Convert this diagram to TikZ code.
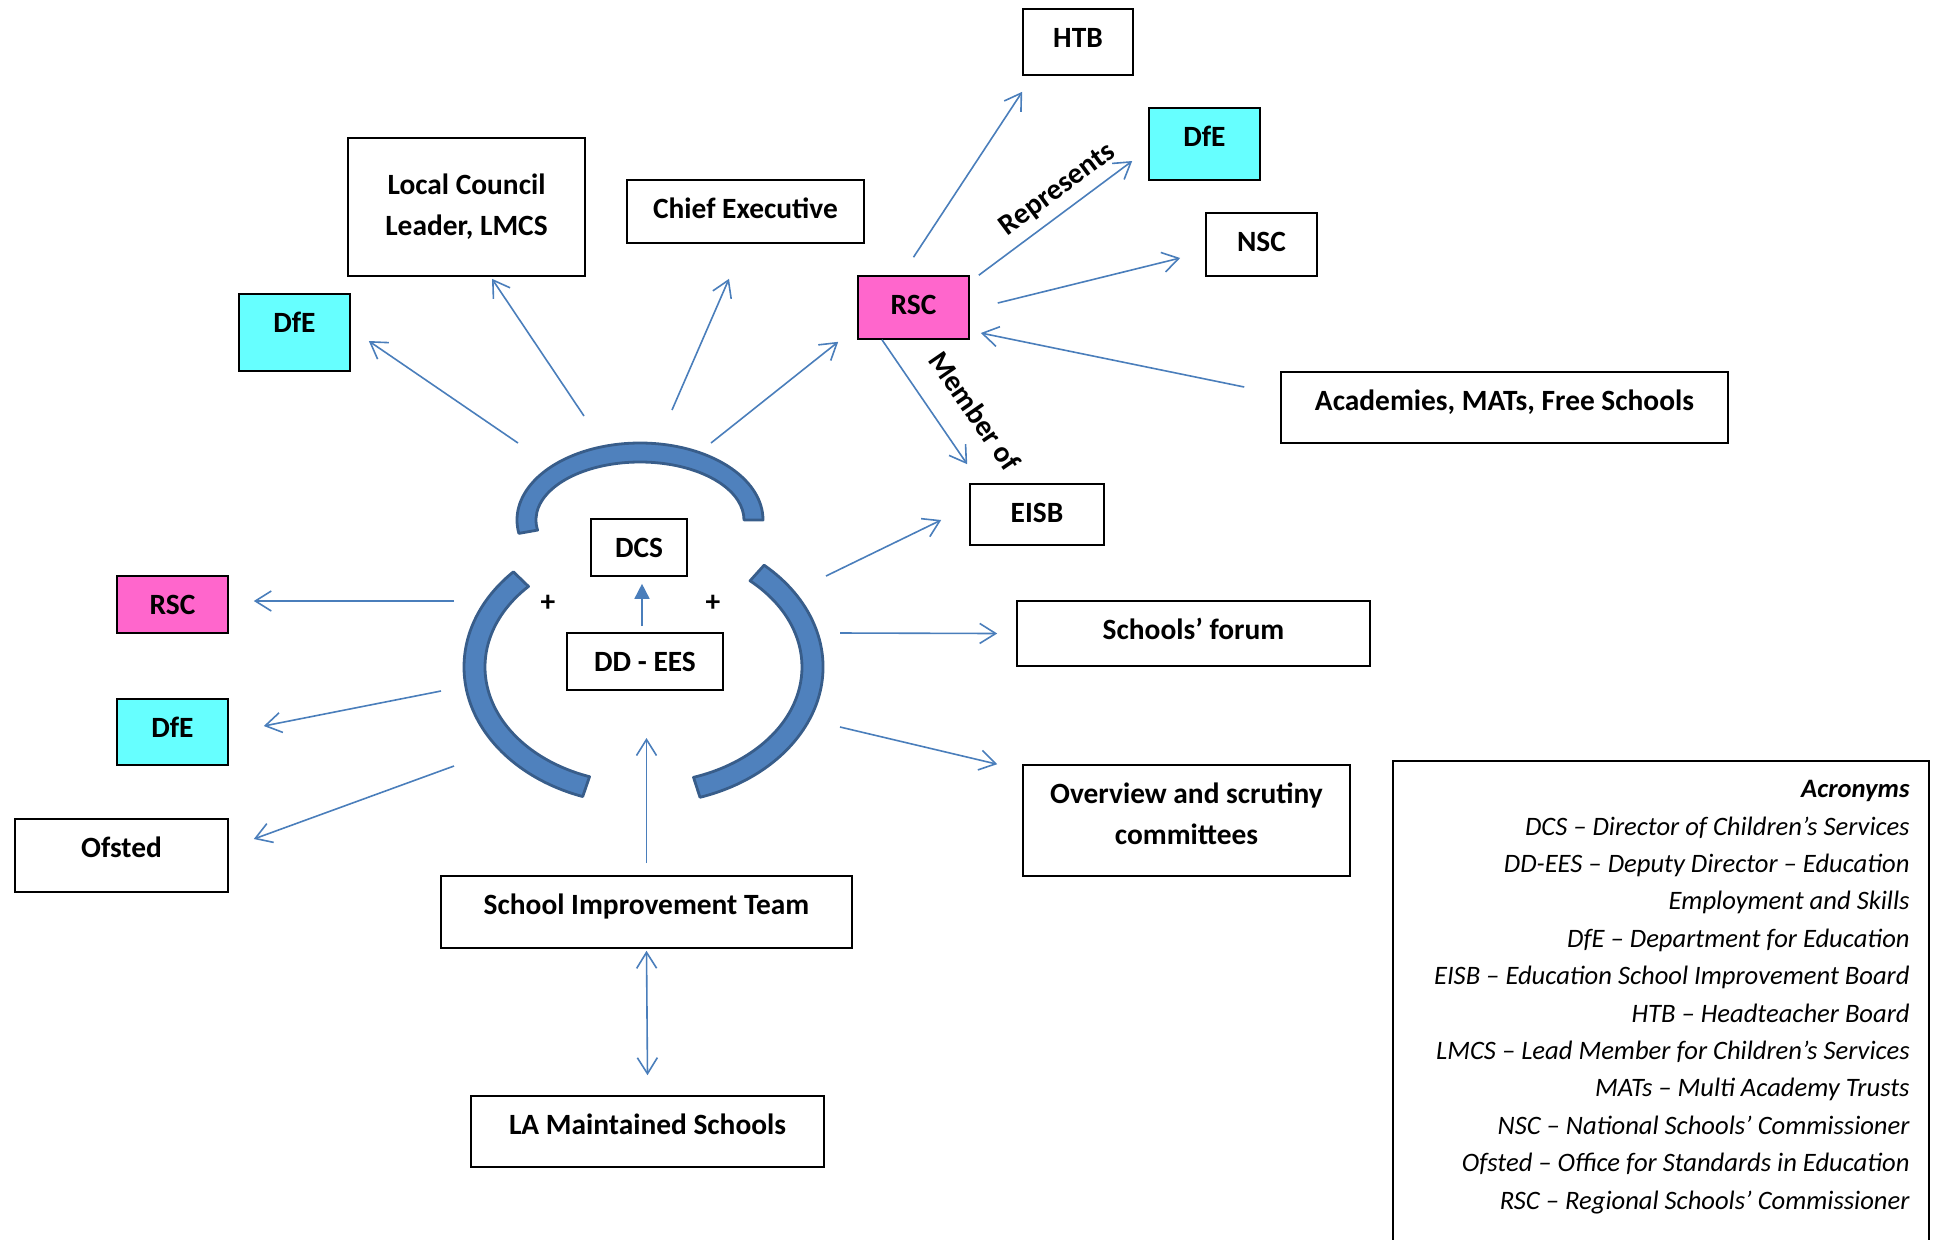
\documentclass[tikz,border=0pt]{standalone}
\usepackage{fontspec}
\setmainfont{Carlito}
\usetikzlibrary{arrows.meta}

\definecolor{linkblue}{RGB}{74,126,187}
\definecolor{bandfill}{RGB}{79,129,189}
\definecolor{bandline}{RGB}{56,93,138}
\definecolor{rscpink}{RGB}{255,102,204}
\definecolor{dfecyan}{RGB}{102,255,255}

\begin{document}
\begin{tikzpicture}[x=0.5pt,y=-0.5pt,
        >={Straight Barb[length=8pt,width=10pt]},
        box/.style={draw=black,fill=white,line width=0.8pt,inner sep=0pt,align=center,
            font=\bfseries\fontsize{14.7}{20.5}\selectfont},
        cell/.style={box,text height=19.4pt},
        rsc/.style={cell,fill=rscpink},
        dfe/.style={cell,fill=dfecyan},
        lbl/.style={font=\bfseries\fontsize{14.7}{17}\selectfont,inner sep=0pt},
        link/.style={draw=linkblue,line width=0.8pt,->},
        band/.style={fill=bandfill,draw=bandline,line width=1.4pt,line join=round}]

\useasboundingbox (0,0) rectangle (1935,1239);

% the three bands round DCS
\begin{scope}[shift={(640,520)}]
\filldraw[band] (0:123 and 77) arc[start angle=0,end angle=-190,x radius=123,y radius=77]
    -- (-190:104 and 58) arc[start angle=-190,end angle=0,x radius=104,y radius=58] -- cycle;
\end{scope}
\begin{scope}[shift={(640,667)}]
\filldraw[band] (-136:176 and 137) arc[start angle=-136,end angle=-251,x radius=176,y radius=137]
    -- (-251:155 and 116) arc[start angle=-251,end angle=-136,x radius=155,y radius=116] -- cycle;
\end{scope}
\begin{scope}[shift={(645,667)}]
\filldraw[band] (72:178 and 137) arc[start angle=72,end angle=-48,x radius=178,y radius=137]
    -- (-48:157 and 116) arc[start angle=-48,end angle=72,x radius=157,y radius=116] -- cycle;
\end{scope}

% centre
\node[cell,minimum width=48pt,minimum height=28.5pt,text depth=9.1pt] (dcs) at (639,547.5) {DCS};
\node[cell,minimum width=78pt,minimum height=28.5pt,text depth=9.1pt] (ddees) at (645,661.5) {DD - EES};
\node[lbl] (plusL) at (548,603) {+};
\node[lbl] (plusR) at (713,603) {+};

% top
\node[box,minimum width=118.5pt,minimum height=69pt] (council) at (466.5,207) {Local Council\\Leader, LMCS};
\node[cell,minimum width=118.5pt,minimum height=31.5pt,text depth=12.1pt] (chief) at (745.5,211.5) {Chief Executive};
\node[dfe,minimum width=55.5pt,minimum height=38.5pt,text depth=19.1pt] (dfeT) at (294.5,332.5) {DfE};
\node[rsc,minimum width=55.5pt,minimum height=31.5pt,text depth=12.1pt] (rscR) at (913.5,307.5) {RSC};

% right
\node[cell,minimum width=55pt,minimum height=33pt,text depth=13.6pt] (htb) at (1078,42) {HTB};
\node[dfe,minimum width=55.5pt,minimum height=36pt,text depth=16.6pt] (dfeR) at (1204.5,144) {DfE};
\node[cell,minimum width=55.5pt,minimum height=31.5pt,text depth=12.1pt] (nsc) at (1261.5,244.5) {NSC};
\node[cell,minimum width=223.5pt,minimum height=35.5pt,text depth=16.1pt] (acad) at (1504.5,407.5) {Academies, MATs, Free Schools};
\node[cell,minimum width=67pt,minimum height=30.5pt,text depth=11.1pt] (eisb) at (1037,514.5) {EISB};
\node[cell,minimum width=176.5pt,minimum height=32.5pt,text depth=13.1pt] (forum) at (1193.5,633.5) {Schools’ forum};
\node[box,minimum width=163.5pt,minimum height=55.5pt,text height=39.9pt,text depth=15.6pt] (scrutiny) at (1186.5,820.5) {Overview and scrutiny\\committees};

% left
\node[rsc,minimum width=55.5pt,minimum height=28.5pt,text depth=9.1pt] (rscL) at (172.5,604.5) {RSC};
\node[dfe,minimum width=55.5pt,minimum height=33pt,text depth=13.6pt] (dfeL) at (172.5,732) {DfE};
\node[cell,minimum width=106.5pt,minimum height=36.5pt,text depth=17.1pt] (ofsted) at (121.5,855.5) {Ofsted};

% bottom
\node[cell,minimum width=205.5pt,minimum height=36pt,text depth=16.6pt] (sit) at (646.5,912) {School Improvement Team};
\node[cell,minimum width=176.5pt,minimum height=35.5pt,text depth=16.1pt] (lams) at (647.5,1131.5) {LA Maintained Schools};

% free ends near the bands
\coordinate (c1) at (518,443);
\coordinate (c2) at (584,416);
\coordinate (c3) at (672,410);
\coordinate (c4) at (711,443);
\coordinate (c5) at (826,576);
\coordinate (c6) at (840,633);
\coordinate (c7) at (840,727);
\coordinate (c8) at (454,601);
\coordinate (c9) at (441,691);
\coordinate (c10) at (454,766);
\coordinate (c11) at (646.5,738);

\draw[link] (c1) -- ([xshift=9pt,yshift=-4.25pt]dfeT.east);
\draw[link] (c2) -- ([xshift=12.75pt,yshift=-1pt]council.south);
\draw[link] (c3) -- ([xshift=-8.25pt,yshift=-17.5pt]chief.south);
\draw[link] (c4) -- ([xshift=-9.5pt,yshift=-1pt]rscR.south west);

\draw[link] ([yshift=9pt]rscR.north) -- ([yshift=-8pt]htb.south west);
\draw[link] ([xshift=4.5pt]rscR.north east) -- ([xshift=-8pt,yshift=-8.5pt]dfeR.west);
\draw[link] ([xshift=14pt,yshift=2.25pt]rscR.east) -- ([xshift=-12.5pt,yshift=-6.75pt]nsc.west);
\draw[link] ([xshift=-18pt,yshift=10.25pt]acad.west) -- ([xshift=5.5pt,yshift=-12.75pt]rscR.east);
\draw[link] ([xshift=-15.75pt]rscR.south) -- ([xshift=-1pt,yshift=9.5pt]eisb.north west);
\node[lbl,rotate=36.6] (represents) at (1058,190) {Represents};
\node[lbl,rotate=-55.5] (memberof) at (975,411) {Member of};

\draw[link] (c5) -- ([xshift=-14pt,yshift=-2.75pt]eisb.west);
\draw[link] (c6) -- ([xshift=-9.5pt]forum.west);
\draw[link] (c7) -- ([xshift=-12.5pt]scrutiny.north west);

\draw[link] (c8) -- ([xshift=12.5pt,yshift=1.75pt]rscL.east);
\draw[link] (c9) -- ([xshift=17.5pt,yshift=3pt]dfeL.east);
\draw[link] (c10) -- ([xshift=12.5pt,yshift=8.25pt]ofsted.east);

\draw[link] ([yshift=6pt]sit.north) -- (c11);
\draw[link,<->] ([yshift=-1pt]sit.south) -- ([yshift=10pt]lams.north);
\draw[draw=linkblue,line width=0.8pt,-{Triangle[length=7.5pt,width=7.5pt]}]
    ([xshift=-1.5pt,yshift=3pt]ddees.north) -- ([xshift=1.5pt,yshift=-3.5pt]dcs.south);

% acronyms
\draw[line width=0.8pt] (1393,1250) -- (1393,761) -- (1929,761) -- (1929,1250);
\node[anchor=north east,align=right,inner sep=0pt,font=\itshape\fontsize{13.3}{18.7}\selectfont]
    (acronyms) at (1910,780) {\textbf{Acronyms}\\
    DCS – Director of Children’s Services\\
    DD-EES – Deputy Director – Education\\
    Employment and Skills\\
    DfE – Department for Education\\
    EISB – Education School Improvement Board\\
    HTB – Headteacher Board\\
    LMCS – Lead Member for Children’s Services\\
    MATs – Multi Academy Trusts\\
    NSC – National Schools’ Commissioner\\
    Ofsted – Office for Standards in Education\\
    RSC – Regional Schools’ Commissioner};
\end{tikzpicture}
\end{document}
